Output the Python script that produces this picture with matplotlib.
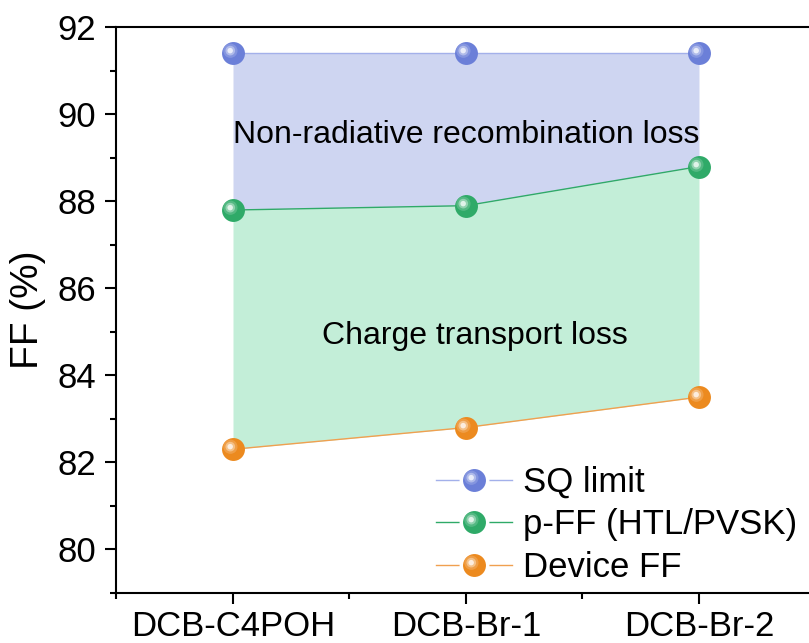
import matplotlib
matplotlib.use("Agg")
import matplotlib.pyplot as plt
import numpy as np
from matplotlib.path import Path
from matplotlib.ticker import MultipleLocator, FixedLocator
from matplotlib.legend_handler import HandlerTuple
from matplotlib.lines import Line2D

plt.rcParams['font.family'] = ['Liberation Sans', 'DejaVu Sans']

categories = ["DCB-C4POH", "DCB-Br-1", "DCB-Br-2"]
sq_limit = [91.4, 91.4, 91.4]
p_ff = [87.8, 87.9, 88.8]
device_ff = [82.3, 82.8, 83.5]

x = np.arange(1, len(categories) + 1)


def glint(center, radius):
    # offset circle marker; the two bare MOVETO points pin the marker scale
    circ = Path.circle(center, radius)
    anchors = Path([[1, 1], [-1, -1]], [Path.MOVETO, Path.MOVETO])
    return Path.make_compound_path(circ, anchors)


def lighten(c, f):
    c = np.array(matplotlib.colors.to_rgb(c))
    return tuple(c + (1 - c) * f)


# highlight layers of the shaded ball marker: (path, whitening, alpha)
ball_layers = [
    (glint((-0.27, 0.24), 0.62), 0.25, 0.7),
    (glint((-0.28, 0.25), 0.42), 0.55, 0.8),
    (glint((-0.29, 0.25), 0.24), 0.9, 0.9),
]

fig = plt.figure(figsize=(8.09, 6.43), dpi=100)
ax = fig.add_axes([0.144, 0.078, 0.864, 0.8795])

fill_top = "#ced5f1"
fill_mid = "#c3eed8"
ax.fill_between(x, p_ff, sq_limit, color=fill_top, lw=0, zorder=1)
ax.fill_between(x, device_ff, p_ff, color=fill_mid, lw=0, zorder=1)

series = [
    ("SQ limit", sq_limit, "#6b7fd8", "#a3b0ea"),
    ("p-FF (HTL/PVSK)", p_ff, "#2faa68", "#2faa68"),
    ("Device FF", device_ff, "#ec8a1f", "#f0a050"),
]

ms = 16.5
handles = []
labels = []
for name, vals, mc, lc in series:
    ax.plot(x, vals, color=lc, lw=1.0, zorder=2)
    ax.plot(x, vals, ls='none', marker='o', ms=ms, mfc=mc, mec='none', zorder=3)
    hs = [Line2D([], [], color=lc, lw=1.0, marker='o', ms=ms + 5, mfc='white', mec='none'),
          Line2D([], [], ls='none', marker='o', ms=ms, mfc=mc, mec='none')]
    for k, (p, f, a) in enumerate(ball_layers):
        ax.plot(x, vals, ls='none', marker=p, ms=ms, mfc=lighten(mc, f), mec='none',
                alpha=a, zorder=4 + k)
        hs.append(Line2D([], [], ls='none', marker=p, ms=ms, mfc=lighten(mc, f), mec='none', alpha=a))
    handles.append(tuple(hs))
    labels.append(name)

ax.text(2, 89.53, "Non-radiative recombination loss", ha='center', va='center', fontsize=23)
ax.text(2.04, 84.91, "Charge transport loss", ha='center', va='center', fontsize=23)

ax.set_xlim(0.5, 3.5)
ax.set_ylim(79, 92)
ax.yaxis.set_major_locator(MultipleLocator(2))
ax.yaxis.set_minor_locator(FixedLocator(np.arange(79, 92, 2)))
ax.xaxis.set_major_locator(FixedLocator(x))
ax.xaxis.set_minor_locator(FixedLocator([0.5, 1.5, 2.5, 3.5]))
ax.set_xticklabels(categories)

for s in ['left', 'bottom', 'top']:
    ax.spines[s].set_linewidth(1.5)
ax.spines['right'].set_visible(False)
ax.tick_params(axis='both', which='major', direction='out', length=8, width=1.5, labelsize=25)
ax.tick_params(axis='both', which='minor', direction='out', length=4, width=1.5)
ax.tick_params(axis='y', which='major', pad=6.5)
ax.tick_params(axis='x', which='major', pad=4)

ax.set_ylabel("FF (%)", fontsize=28, labelpad=8)

ax.legend(handles, labels, handler_map={tuple: HandlerTuple(ndivide=1, pad=0)},
          loc='lower left', bbox_to_anchor=(0.457, 0.016), frameon=False, fontsize=25,
          handlelength=2.2, handletextpad=0.3, labelspacing=0.27,
          borderpad=0, borderaxespad=0)

fig.savefig("out.png", dpi=100)
